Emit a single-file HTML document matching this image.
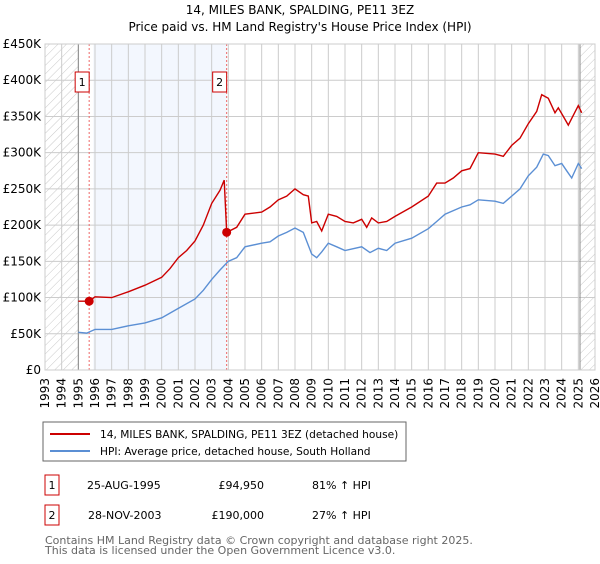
<!DOCTYPE html>
<html><head><meta charset="utf-8"><style>
body{margin:0;background:#fff;width:600px;height:560px;overflow:hidden;font-family:"DejaVu Sans","Liberation Sans",sans-serif}
svg text{font-family:"DejaVu Sans","Liberation Sans",sans-serif}
</style></head><body>
<svg id="c" width="600" height="560" xmlns="http://www.w3.org/2000/svg">
<defs><pattern id="h" width="6" height="6" patternUnits="userSpaceOnUse" patternTransform="rotate(45)"><line x1="0" y1="0" x2="0" y2="6" stroke="#bbb" stroke-width="0.8"/></pattern></defs>
<text x="300" y="14" text-anchor="middle" font-size="12">14, MILES BANK, SPALDING, PE11 3EZ</text>
<text x="300" y="31" text-anchor="middle" font-size="12">Price paid vs. HM Land Registry's House Price Index (HPI)</text>
<g id="plot"></g>
<rect x="43" y="422" width="363" height="39" fill="#fff" stroke="#666"/>
<line x1="50" y1="434" x2="90" y2="434" stroke="#cc0000" stroke-width="2"/>
<text x="100" y="438" font-size="10.6">14, MILES BANK, SPALDING, PE11 3EZ (detached house)</text>
<line x1="50" y1="451" x2="90" y2="451" stroke="#5b8fd4" stroke-width="2"/>
<text x="100" y="455" font-size="10.6">HPI: Average price, detached house, South Holland</text>
<g font-size="11">
<rect x="45" y="475" width="14" height="20" fill="#fff" stroke="#cc0000"/>
<text x="52" y="489" text-anchor="middle">1</text>
<text x="87" y="489">25-AUG-1995</text>
<text x="264" y="489" text-anchor="end">£94,950</text>
<text x="312" y="489">81% ↑ HPI</text>
<rect x="45" y="505" width="14" height="20" fill="#fff" stroke="#cc0000"/>
<text x="52" y="519" text-anchor="middle">2</text>
<text x="88" y="519">28-NOV-2003</text>
<text x="264" y="519" text-anchor="end">£190,000</text>
<text x="312" y="519">27% ↑ HPI</text>
</g>
<text x="45" y="544" font-size="11" fill="#666">Contains HM Land Registry data © Crown copyright and database right 2025.</text>
<text x="45" y="554" font-size="11" fill="#666">This data is licensed under the Open Government Licence v3.0.</text>
</svg>
<script>
const hpiYears=[1995.0,1995.5,1996,1997,1998,1999,2000,2001,2002,2002.5,2003,2003.5,2004,2004.5,2005,2006,2006.5,2007,2007.5,2008,2008.5,2009,2009.3,2009.6,2010,2010.5,2011,2012,2012.5,2013,2013.5,2014,2015,2016,2016.5,2017,2018,2018.5,2019,2020,2020.5,2021,2021.5,2022,2022.5,2022.9,2023.2,2023.6,2024,2024.3,2024.6,2025.0,2025.2];
const hpiValues=[52,51,56,56,61,65,72,85,98,110,125,138,150,155,170,175,177,185,190,196,190,160,155,163,175,170,165,170,162,168,165,175,182,195,205,215,225,228,235,233,230,240,250,268,280,298,296,282,285,275,265,285,278];
const priceYears=[1995.0,1995.65,1996,1997,1998,1999,2000,2000.5,2001,2001.5,2002,2002.5,2003,2003.5,2003.75,2003.9,2004.5,2005,2006,2006.5,2007,2007.5,2008,2008.5,2008.8,2009,2009.3,2009.6,2010,2010.5,2011,2011.5,2012,2012.3,2012.6,2013,2013.5,2014,2015,2016,2016.5,2017,2017.5,2018,2018.5,2019,2020,2020.5,2021,2021.5,2022,2022.5,2022.8,2023.2,2023.6,2023.8,2024.1,2024.4,2025.0,2025.2];
const priceValues=[95,94.95,101,100,108,117,128,140,155,165,178,200,230,248,262,190,197,215,218,225,235,240,250,242,240,203,205,192,215,212,205,203,208,197,210,203,205,212,225,240,258,258,265,275,278,300,298,295,310,320,340,357,380,375,355,362,350,338,365,355];
const saleYears=[1995.65,2003.9];
const saleValues=[94.95,190];
const yTicks=[0,50,100,150,200,250,300,350,400,450];
const yTickLabels=["£0","£50K","£100K","£150K","£200K","£250K","£300K","£350K","£400K","£450K"];
const xTicks=[1993,1994,1995,1996,1997,1998,1999,2000,2001,2002,2003,2004,2005,2006,2007,2008,2009,2010,2011,2012,2013,2014,2015,2016,2017,2018,2019,2020,2021,2022,2023,2024,2025,2026];
const L=45,R=595,T=44,B=370;
const X=y=>L+(y-1993)/(2026-1993)*(R-L);
const Y=v=>B-v/450*(B-T);
const NS="http://www.w3.org/2000/svg";
const g=document.getElementById('plot');
function mk(t,a,p){const e=document.createElementNS(NS,t);for(const k in a)e.setAttribute(k,a[k]);(p||g).appendChild(e);return e;}
let e;
e=mk('rect',{x:X(1995.9),y:T,width:X(2003.9)-X(1995.9),height:B-T,fill:'#eef3fd',opacity:0.7});


e=mk('rect',{x:L,y:T,width:X(1995)-L,height:B-T,fill:'url(#h)'});


e=mk('rect',{x:X(2025.1),y:T,width:R-X(2025.1),height:B-T,fill:'url(#h)'});


xTicks.forEach(t=>{
 e=mk('line',{x1:X(t),x2:X(t),y1:T,y2:B,stroke:'#ccc','stroke-width':1});
 
 
 e=mk('text',{x:0,y:0,'font-size':12,'text-anchor':'end',transform:`translate(${X(t)+4},${B+8}) rotate(-90)`});
 e.textContent=t;
 
 
});
yTicks.forEach((t,i)=>{
 e=mk('line',{x1:L,x2:R,y1:Y(t),y2:Y(t),stroke:'#ccc','stroke-width':1});
 
 
 e=mk('text',{x:L-4,y:Y(t)+4,'font-size':12,'text-anchor':'end'});
 e.textContent=yTickLabels[i];
 
 
});
[1995,2025.1].forEach(t=>{
 e=mk('line',{x1:X(t),x2:X(t),y1:T,y2:B,stroke:'#888','stroke-width':1});
 
 
});
saleYears.forEach((s,i)=>{
 e=mk('line',{x1:X(s),x2:X(s),y1:T,y2:B,stroke:'#e66','stroke-width':1,'stroke-dasharray':'2,2'});
 
 
 e=mk('rect',{x:X(s)-14,y:72,width:14,height:20,fill:'#fff',stroke:'#cc0000'});
 
 
 e=mk('text',{x:X(s)-7,y:86,'font-size':11,'text-anchor':'middle'});
 e.textContent=String(i+1);
 
 
});
const pts=(xs,vs)=>xs.map((x,i)=>X(x).toFixed(1)+','+Y(vs[i]).toFixed(1)).join(' ');
e=mk('polyline',{points:pts(hpiYears,hpiValues),fill:'none',stroke:'#5b8fd4','stroke-width':1.4});


e=mk('polyline',{points:pts(priceYears,priceValues),fill:'none',stroke:'#cc0000','stroke-width':1.4});


saleYears.forEach((s,i)=>{
 e=mk('circle',{cx:X(s),cy:Y(saleValues[i]),r:4.5,fill:'#cc0000'});
 
 
});
e=mk('rect',{x:L,y:T,width:R-L,height:B-T,fill:'none',stroke:'#ccc'});


</script>
</body></html>
